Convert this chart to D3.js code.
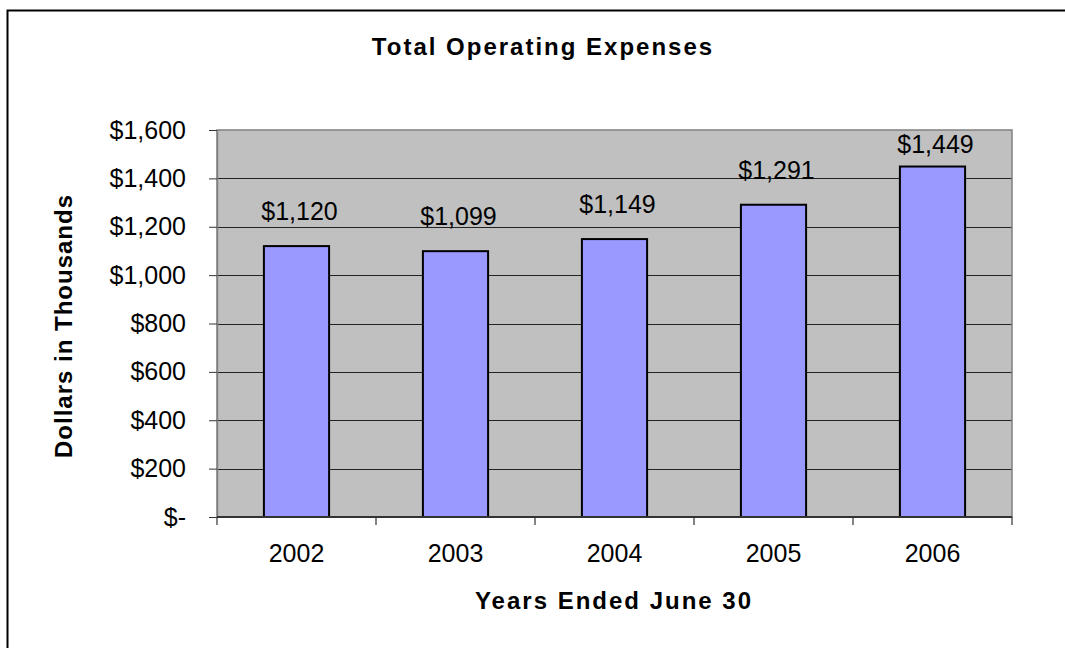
<!DOCTYPE html>
<html>
<head>
<meta charset="utf-8">
<script src="https://cdn.jsdelivr.net/npm/d3@7"></script>
<style>
  html, body { margin: 0; padding: 0; background: white; overflow: hidden; }
  svg { display: block; }
  text { font-family: "Liberation Sans", Arial, sans-serif; fill: black; }
</style>
</head>
<body>
<div id="viz-container"></div>
<script>
// chart data
let years = ["2002", "2003", "2004", "2005", "2006"];
let expenses = [1120, 1099, 1149, 1291, 1449];
let yTicks = [0, 200, 400, 600, 800, 1000, 1200, 1400, 1600];

let viz = d3.select("#viz-container")
                .append("svg")
                    .attr("width", 1065)
                    .attr("height", 648)
;

// plot area
let plotLeft = 217, plotRight = 1012, plotTop = 130, plotBottom = 517;

let x = d3.scaleBand().domain(years).range([plotLeft, plotRight]).padding(0);
let y = d3.scaleLinear().domain([0, 1600]).range([plotBottom, plotTop]);

let barW = x.bandwidth() * 0.41;

function moneyFmt(v){
    if (v === 0) return "$-";
    return "$" + d3.format(",")(v);
}

// outer frame: only the top and left edges are inside the picture
viz.append("path")
    .attr("d", "M7.5,660 L7.5,10.5 L1080,10.5")
    .attr("fill", "none")
    .attr("stroke", "black")
    .attr("stroke-width", 2)
;

// plot background
viz.append("rect")
    .attr("x", plotLeft).attr("y", plotTop)
    .attr("width", plotRight - plotLeft).attr("height", plotBottom - plotTop)
    .attr("fill", "#c0c0c0")
;

// gridlines
viz.selectAll(".grid").data(yTicks.filter(d => d > 0 && d < 1600)).enter().append("line")
    .attr("class", "grid")
    .attr("x1", plotLeft).attr("x2", plotRight)
    .attr("y1", d => Math.round(y(d)) + 0.5).attr("y2", d => Math.round(y(d)) + 0.5)
    .attr("stroke", "#222")
    .attr("stroke-width", 1)
;

// plot border
viz.append("rect")
    .attr("x", plotLeft).attr("y", plotTop)
    .attr("width", plotRight - plotLeft).attr("height", plotBottom - plotTop)
    .attr("fill", "none")
    .attr("stroke", "#808080")
    .attr("stroke-width", 1.5)
;

// bars
viz.selectAll(".bar").data(expenses).enter().append("rect")
    .attr("class", "bar")
    .attr("x", (d, i) => x(years[i]) + (x.bandwidth() - barW) / 2)
    .attr("y", d => y(d))
    .attr("width", barW)
    .attr("height", d => plotBottom - y(d))
    .attr("fill", "#9999ff")
    .attr("stroke", "black")
    .attr("stroke-width", 2)
;

// value labels
viz.selectAll(".valLabel").data(expenses).enter().append("text")
    .attr("class", "valLabel")
    .attr("x", (d, i) => x(years[i]) + x.bandwidth() / 2 + 3)
    .attr("y", d => Math.max(y(d) - 26, plotTop + 23))
    .attr("text-anchor", "middle")
    .style("font-size", "25px")
    .text(moneyFmt)
;

// y axis
let yAxis = d3.axisLeft(y).tickValues(yTicks).tickSize(8).tickSizeOuter(0).tickFormat(moneyFmt);
let yg = viz.append("g").attr("transform", "translate(" + plotLeft + ",0)").call(yAxis);
yg.select(".domain").attr("stroke", "#808080").attr("stroke-width", 1.5);
yg.selectAll(".tick line").attr("stroke", "#333");
yg.selectAll(".tick text")
    .attr("x", -31)
    .style("font-size", "25px")
    .style("font-family", "'Liberation Sans', Arial, sans-serif")
    .attr("fill", "black")
;

// x axis (ticks at category boundaries)
viz.append("line")
    .attr("x1", plotLeft).attr("x2", plotRight)
    .attr("y1", plotBottom).attr("y2", plotBottom)
    .attr("stroke", "#333").attr("stroke-width", 2)
;
let bounds = years.map(d => x(d)).concat([plotRight]);
viz.selectAll(".xtick").data(bounds).enter().append("line")
    .attr("class", "xtick")
    .attr("x1", d => d).attr("x2", d => d)
    .attr("y1", plotBottom).attr("y2", plotBottom + 8)
    .attr("stroke", "#333").attr("stroke-width", 1.2)
;
viz.selectAll(".xlabel").data(years).enter().append("text")
    .attr("class", "xlabel")
    .attr("x", d => x(d) + x.bandwidth() / 2)
    .attr("y", 562)
    .attr("text-anchor", "middle")
    .style("font-size", "25px")
    .text(d => d)
;

// titles
viz.append("text")
    .attr("x", 543).attr("y", 55)
    .attr("text-anchor", "middle")
    .style("font-size", "24px").style("font-weight", "bold")
    .style("letter-spacing", "2px")
    .text("Total Operating Expenses")
;
viz.append("text")
    .attr("x", 614).attr("y", 609)
    .attr("text-anchor", "middle")
    .style("font-size", "24px").style("font-weight", "bold")
    .style("letter-spacing", "2px")
    .text("Years Ended June 30")
;
viz.append("text")
    .attr("transform", "translate(72,326) rotate(-90)")
    .attr("text-anchor", "middle")
    .style("font-size", "24px").style("font-weight", "bold")
    .style("letter-spacing", "1px")
    .text("Dollars in Thousands")
;
</script>
</body>
</html>
